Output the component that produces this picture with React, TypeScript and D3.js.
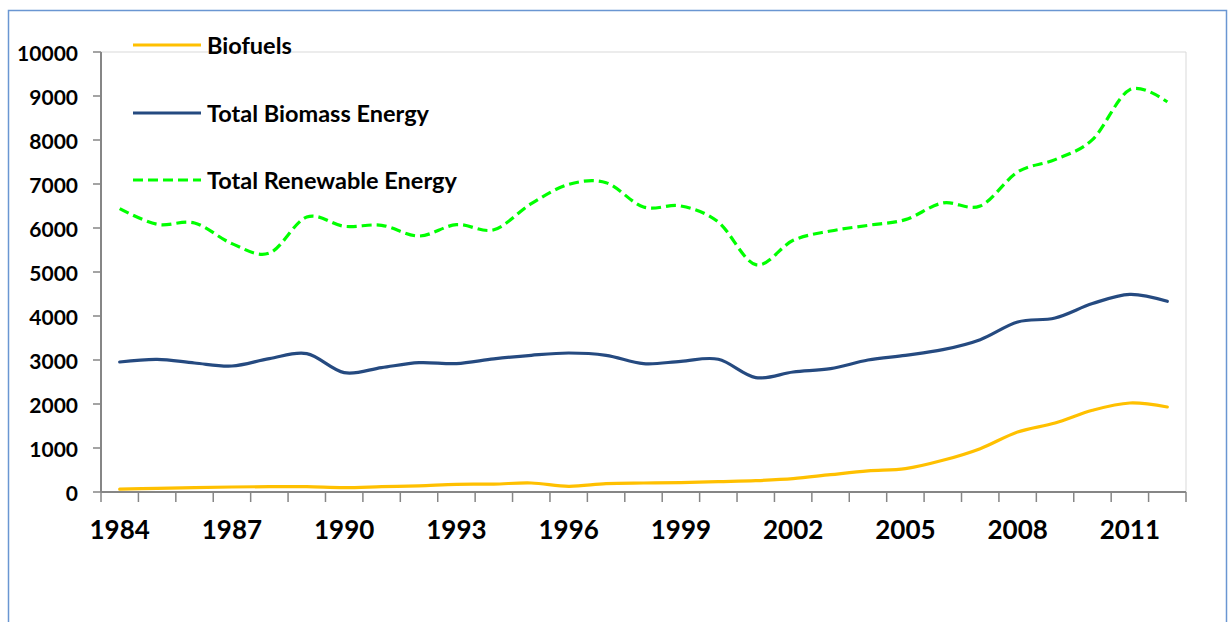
import React from "react";
import * as d3 from "d3";

const years = d3.range(1984, 2013).map(String);
const tickYears = ["1984","1987","1990","1993","1996","1999","2002","2005","2008","2011"];
const yTicks = [0,1000,2000,3000,4000,5000,6000,7000,8000,9000,10000];

const biofuels = [65,84,99,114,122,120,100,120,140,175,180,205,129,190,205,212,235,258,303,394,480,530,720,985,1364,1568,1857,2023,1932];
const biomass = [2955,3016,2932,2864,3032,3145,2713,2827,2940,2918,3025,3107,3159,3107,2918,2970,3016,2600,2727,2803,3000,3107,3235,3463,3864,3955,4282,4493,4334];
const renewable = [6440,6084,6114,5645,5430,6250,6039,6061,5818,6077,5960,6554,6990,7030,6477,6500,6136,5168,5720,5932,6060,6190,6568,6500,7273,7554,8009,9145,8864];

const series = [
  { name: "Biofuels", values: biofuels, color: "#FFC000", dash: undefined as string | undefined },
  { name: "Total Biomass Energy", values: biomass, color: "#254A80", dash: undefined as string | undefined },
  { name: "Total Renewable Energy", values: renewable, color: "#00FF00", dash: "10,5" },
];

const FONT = "Lato, 'Open Sans', sans-serif";

export default function App() {
  const W = 1229, H = 622;
  const left = 101, right = 1186, top = 52, bottom = 492;
  const x = d3.scaleBand<string>().domain(years).range([left, right]);
  const y = d3.scaleLinear().domain([0, 10000]).range([bottom, top]);
  const cx = (yr: string) => (x(yr) as number) + x.bandwidth() / 2;
  const line = d3.line<number>()
    .x((_, i) => cx(years[i]))
    .y((v) => y(v))
    .curve(d3.curveCardinal.tension(0));

  const legendY = [45, 113, 180];
  const boundaries = d3.range(0, years.length + 1).map((i) => left + i * x.step());

  return (
    <svg width={W} height={H} style={{ position: "absolute", left: 0, top: 0, background: "#fff" }}>
      <rect x={8.5} y={10.5} width={1218} height={640} fill="#fff" stroke="#6A96D2" strokeWidth={1.5} />
      {/* plot frame */}
      <line x1={left} x2={right} y1={top} y2={top} stroke="#D9D9D9" strokeWidth={1} />
      <line x1={right} x2={right} y1={top} y2={bottom} stroke="#D9D9D9" strokeWidth={1} />
      {/* y axis */}
      <line x1={left} x2={left} y1={top} y2={bottom} stroke="#868686" strokeWidth={2} />
      {yTicks.map((t) => (
        <g key={t}>
          <line x1={left - 8} x2={left} y1={y(t)} y2={y(t)} stroke="#868686" strokeWidth={1.5} />
          <text x={78} y={y(t)} textAnchor="end" dominantBaseline="central" fontFamily={FONT} fontWeight={700} fontSize={21} fill="#000">{t}</text>
        </g>
      ))}
      {/* x axis */}
      <line x1={left} x2={right} y1={bottom} y2={bottom} stroke="#868686" strokeWidth={2} />
      {boundaries.map((bx, i) => (
        <line key={i} x1={bx} x2={bx} y1={bottom} y2={bottom + 10} stroke="#868686" strokeWidth={1.5} />
      ))}
      {tickYears.map((t) => (
        <text key={t} x={cx(t)} y={529} textAnchor="middle" dominantBaseline="central" fontFamily={FONT} fontWeight={700} fontSize={26} fill="#000">{t}</text>
      ))}
      {/* lines */}
      {series.map((s) => (
        <path key={s.name} d={line(s.values) || ""} fill="none" stroke={s.color} strokeWidth={3.2} strokeDasharray={s.dash} strokeLinecap={s.dash ? "butt" : "round"} />
      ))}
      {/* legend */}
      {series.map((s, i) => (
        <g key={s.name}>
          <line x1={133} x2={201} y1={legendY[i]} y2={legendY[i]} stroke={s.color} strokeWidth={3.2} strokeDasharray={s.dash} />
          <text x={207} y={legendY[i]} dominantBaseline="central" fontFamily={FONT} fontWeight={700} fontSize={23.5} fill="#000">{s.name}</text>
        </g>
      ))}
    </svg>
  );
}
